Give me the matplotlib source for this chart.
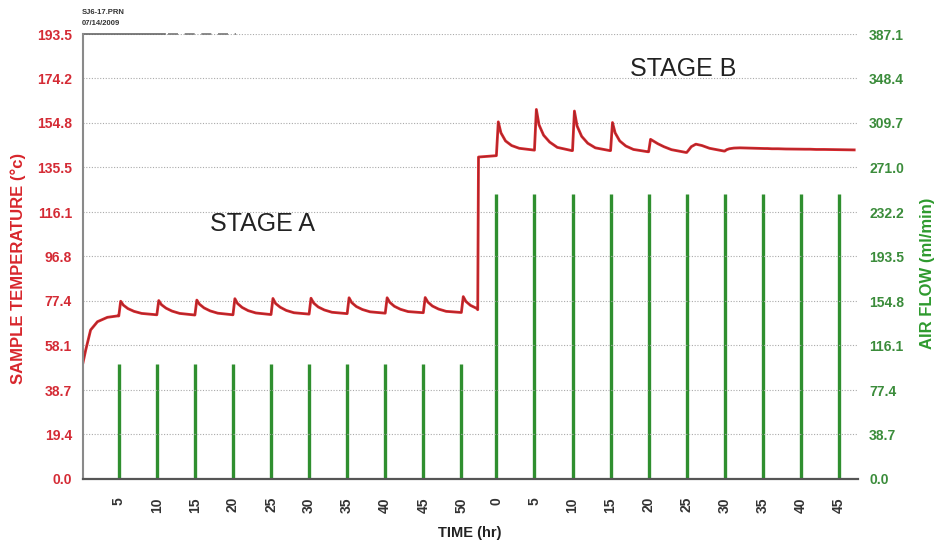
import matplotlib
matplotlib.use("Agg")
import matplotlib.pyplot as plt

plt.rcParams['font.family'] = ['Liberation Sans', 'DejaVu Sans']

# ---------------- data ----------------
temp_ticks = [0.0, 19.4, 38.7, 58.1, 77.4, 96.8, 116.1, 135.5, 154.8, 174.2, 193.5]
flow_ticks = [0.0, 38.7, 77.4, 116.1, 154.8, 193.5, 232.2, 271.0, 309.7, 348.4, 387.1]
stage_a_tick_hours = [5, 10, 15, 20, 25, 30, 35, 40, 45, 50]
stage_b_tick_hours = [0, 5, 10, 15, 20, 25, 30, 35, 40, 45]
stage_b_offset = 54.6   # stage B clock starts here on the stage A clock

# warm-up of stage A
rise_t = [0.3, 0.65, 1.3, 2.2, 3.5, 4.8]
rise_T = [50.6, 56.0, 64.8, 68.4, 70.3, 70.9]

# temperature around each air pulse: times after the pulse (hr) and values
cycle_offsets = [0.0, 0.25, 0.6, 1.2, 2.0, 3.0, 4.9]
stage_a_pulses = [5, 10, 15, 20, 25, 30, 35, 40, 45, 50]
stage_a_cycles = [
    [70.9, 77.3, 75.6, 74.1, 72.9, 72.0, 71.4],
    [71.4, 77.6, 75.8, 74.3, 73.0, 72.0, 71.3],
    [71.3, 77.8, 76.0, 74.4, 73.1, 72.1, 71.4],
    [71.4, 78.4, 76.3, 74.6, 73.2, 72.2, 71.5],
    [71.5, 78.5, 76.3, 74.7, 73.3, 72.3, 71.7],
    [71.7, 78.6, 76.5, 74.8, 73.5, 72.5, 71.9],
    [71.9, 78.8, 76.7, 75.0, 73.7, 72.7, 72.1],
    [72.1, 78.8, 76.8, 75.1, 73.8, 72.8, 72.3],
    [72.3, 78.9, 76.9, 75.2, 73.9, 72.9, 72.4],
    [72.4, 79.3, 77.2, 75.5, 74.2],
]
# step from stage A to stage B (stage A clock)
transition_t = [52.15, 52.25, 53.5, 54.6]
transition_T = [73.6, 140.0, 140.3, 140.6]

stage_b_pulses = [0, 5, 10, 15, 20, 25, 30, 35, 40, 45]
stage_b_cycles = [
    [140.6, 155.3, 150.5, 147.0, 145.0, 143.8, 143.0],
    [143.0, 160.7, 154.0, 149.5, 146.5, 144.2, 142.8],
    [142.8, 160.0, 153.5, 149.0, 146.0, 144.0, 142.8],
    [142.8, 155.0, 150.5, 147.0, 144.8, 143.3, 142.3],
    [142.3, 147.7, 147.0, 145.8, 144.5, 143.2, 142.0],
    [142.0, 143.0, 144.5, 145.6, 145.0, 143.8, 142.6],
    [142.6, 143.2, 143.6, 143.9, 144.0, 143.9, 143.7],
    [143.7, 143.7, 143.7, 143.6, 143.6, 143.5, 143.4],
    [143.4, 143.4, 143.4, 143.4, 143.3, 143.3, 143.2],
    [143.2, 143.2, 143.2, 143.1, 143.1],
]

# air flow pulses (ml/min)
flow_a_hours = [5, 10, 15, 20, 25, 30, 35, 40, 45, 50]
flow_a_values = [100, 100, 100, 100, 100, 100, 100, 100, 100, 100]
flow_b_hours = [0, 5, 10, 15, 20, 25, 30, 35, 40, 45]
flow_b_values = [248, 248, 248, 248, 248, 248, 248, 248, 248, 248]

# ---------------- assemble series ----------------
temp_t = list(rise_t)
temp_v = list(rise_T)
for p, vals in zip(stage_a_pulses, stage_a_cycles):
    temp_t += [p + o for o in cycle_offsets[:len(vals)]]
    temp_v += vals
temp_t += transition_t
temp_v += transition_T
for p, vals in zip(stage_b_pulses, stage_b_cycles):
    temp_t += [stage_b_offset + p + o for o in cycle_offsets[:len(vals)]]
    temp_v += vals

flow_t = list(flow_a_hours) + [stage_b_offset + h for h in flow_b_hours]
flow_v = list(flow_a_values) + list(flow_b_values)

# ---------------- figure ----------------
W, H = 938, 546
fig = plt.figure(figsize=(W / 100, H / 100), dpi=100)
left, right, top, bottom = 83, 858, 34, 479
ax = fig.add_axes([left / W, 1 - bottom / H, (right - left) / W, (bottom - top) / H])
ax2 = ax.twinx()
ax.set_zorder(ax2.get_zorder() + 1)
ax.patch.set_visible(False)

red = '#d8262c'
green = '#2f8f2f'

ax2.vlines(flow_t, 0, flow_v, colors=green, linewidth=2.4)
ax.plot(temp_t, temp_v, color=red, linewidth=2.0, solid_joinstyle='round')
ax.plot(temp_t, temp_v, color='#7a2a2a', linewidth=0.6, alpha=0.6)

xlo, xhi = 0.3, 102.1
ax.set_xlim(xlo, xhi)
ax.set_ylim(0, 193.5)
ax2.set_ylim(0, 387.1)

ax.set_yticks(temp_ticks)
ax.set_yticklabels([f"{v:.1f}" for v in temp_ticks])
ax2.set_yticks(flow_ticks)
ax2.set_yticklabels([f"{v:.1f}" for v in flow_ticks])

xt = list(stage_a_tick_hours) + [stage_b_offset + h for h in stage_b_tick_hours]
xl = [str(h) for h in stage_a_tick_hours] + [str(h) for h in stage_b_tick_hours]
ax.set_xticks(xt)
ax.set_xticklabels(xl, rotation=90)

ax.tick_params(axis='x', length=0, pad=13, labelsize=10, labelcolor='#333333')
ax.tick_params(axis='y', length=0, pad=8, labelsize=10, labelcolor='#d42b35')
ax2.tick_params(axis='y', length=0, pad=8, labelsize=10, labelcolor='#3b8c3b')
for lab in ax.get_xticklabels() + ax.get_yticklabels() + ax2.get_yticklabels():
    lab.set_fontweight('bold')

# grid
for v in temp_ticks[1:]:
    ax.axhline(v, color='#aaaaaa', linewidth=0.8, linestyle=(0, (1, 1.5)), zorder=0)

for s in ['top', 'right']:
    ax.spines[s].set_visible(False)
    ax2.spines[s].set_visible(False)
ax2.spines['left'].set_visible(False)
ax2.spines['bottom'].set_visible(False)
ax.spines['left'].set_color('#8a8a8a')
ax.spines['left'].set_linewidth(1.5)
ax.spines['bottom'].set_color('#555555')
ax.spines['bottom'].set_linewidth(1.6)

# partial top line
ax.plot([0, 0.106], [1, 1], transform=ax.transAxes, color='#666666', lw=1.2, clip_on=False)
ax.plot([0.11, 0.197], [1, 1], transform=ax.transAxes, color='#777777', lw=1.2,
        linestyle=(0, (6, 4)), clip_on=False)

# texts
fig.text(82 / W, 1 - 13 / H, "SJ6-17.PRN", fontsize=5.5, fontweight='bold',
         color='#333333', va='center', ha='left')
fig.text(82 / W, 1 - 23.5 / H, "07/14/2009", fontsize=5.5, fontweight='bold',
         color='#333333', va='center', ha='left')
fig.text(262 / W, 1 - 224 / H, "STAGE A", fontsize=18, color='#222222',
         ha='center', va='center')
fig.text(683 / W, 1 - 69.5 / H, "STAGE B", fontsize=18, color='#222222',
         ha='center', va='center')
fig.text(470 / W, 1 - 533 / H, "TIME (hr)", fontsize=10.5, fontweight='bold',
         color='#222222', ha='center', va='center')
fig.text(18 / W, 1 - 268 / H, "SAMPLE TEMPERATURE (°c)", fontsize=12, fontweight='bold',
         color=red, rotation=90, ha='center', va='center')
fig.text(927 / W, 1 - 273 / H, "AIR FLOW (ml/min)", fontsize=12, fontweight='bold',
         color='#2e9a2e', rotation=90, ha='center', va='center')

fig.savefig("out.png", dpi=100)
